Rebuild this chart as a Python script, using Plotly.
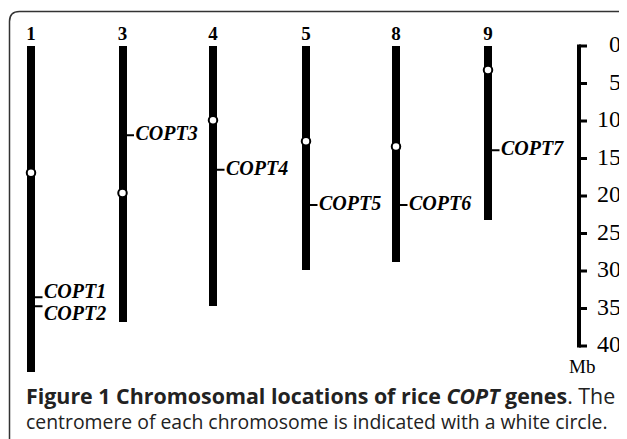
import plotly.graph_objects as go

W, H = 627, 439          # browser window
OFF = 8                  # default page margin around the plot div
FW, FH = W - OFF, H - OFF

# ---- data (Mb) ----
chrom_names = ["1", "3", "4", "5", "8", "9"]
chrom_lengths = [43.5, 36.8, 34.7, 29.9, 28.8, 23.2]
centromeres = [16.9, 19.6, 9.9, 12.7, 13.4, 3.2]
gene_names = ["COPT1", "COPT2", "COPT3", "COPT4", "COPT5", "COPT6", "COPT7"]
gene_chrom = ["1", "1", "3", "4", "5", "8", "9"]
gene_pos = [33.5, 34.7, 11.9, 16.5, 21.2, 21.2, 13.9]
gene_label_pos = [32.9, 35.9, 11.9, 16.5, 21.2, 21.2, 13.9]
scale_ticks = [0, 5, 10, 15, 20, 25, 30, 35, 40]

# ---- layout positions (window pixels across) ----
chrom_x = [31, 122.5, 213, 306, 396, 488]
bar_w = 8
scale_x = 579
px_top = 46.0      # window pixel row of 0 Mb
px_per_mb = 7.5

y_min = (OFF - px_top) / px_per_mb
y_max = (H - px_top) / px_per_mb

cx = dict(zip(chrom_names, chrom_x))
SERIF = "Liberation Serif"

fig = go.Figure()

# chromosomes
fig.add_trace(go.Bar(x=chrom_x, y=chrom_lengths, base=0, width=bar_w,
                     marker=dict(color="black", line=dict(width=0)),
                     hoverinfo="skip"))

# gene ticks
tx, ty = [], []
for c, p in zip(gene_chrom, gene_pos):
    x0 = cx[c] + bar_w / 2
    tx += [x0 - 0.5, x0 + 7.5, None]
    ty += [p, p, None]
fig.add_trace(go.Scatter(x=tx, y=ty, mode="lines",
                         line=dict(color="black", width=2), hoverinfo="skip"))

# gene labels
fig.add_trace(go.Scatter(x=[cx[c] + bar_w / 2 + 9 for c in gene_chrom],
                         y=gene_label_pos, mode="text",
                         text=[f"<b><i>{g}</i></b>" for g in gene_names],
                         textposition="middle right",
                         textfont=dict(family=SERIF, size=20, color="black"),
                         hoverinfo="skip"))

# centromeres
fig.add_trace(go.Scatter(x=chrom_x, y=centromeres, mode="markers",
                         marker=dict(symbol="circle", size=8.5, color="white",
                                     line=dict(color="black", width=2)),
                         hoverinfo="skip"))

# chromosome labels
fig.add_trace(go.Scatter(x=chrom_x, y=[-1.5] * len(chrom_x), mode="text",
                         text=[f"<b>{n}</b>" for n in chrom_names],
                         textposition="middle center",
                         textfont=dict(family=SERIF, size=19, color="black"),
                         hoverinfo="skip"))

# scale bar
fig.add_trace(go.Scatter(x=[scale_x, scale_x], y=[scale_ticks[0] - 0.2, scale_ticks[-1] + 0.2],
                         mode="lines", line=dict(color="black", width=4),
                         hoverinfo="skip"))
sx, sy = [], []
for t in scale_ticks:
    sx += [scale_x, scale_x + 8, None]
    sy += [t, t, None]
fig.add_trace(go.Scatter(x=sx, y=sy, mode="lines",
                         line=dict(color="black", width=3), hoverinfo="skip"))
fig.add_trace(go.Scatter(x=[621] * len(scale_ticks), y=scale_ticks, mode="text",
                         text=[str(t) for t in scale_ticks],
                         textposition="middle left",
                         textfont=dict(family=SERIF, size=24, color="black"),
                         hoverinfo="skip"))
fig.add_annotation(x=582, y=42.7, xref="x", yref="y", text="Mb", showarrow=False,
                   font=dict(family=SERIF, size=19, color="black"),
                   xanchor="center", yanchor="middle")


def px(x):
    return (x - OFF) / FW


def py(y):
    return 1 - (y - OFF) / FH


# frame with rounded top corners
L, T, R, B, r = 9.5, 11.5, 629, 470, 10
path = (f"M {px(L)},{py(B)} L {px(L)},{py(T + r)} "
        f"Q {px(L)},{py(T)} {px(L + r)},{py(T)} "
        f"L {px(R - r)},{py(T)} Q {px(R)},{py(T)} {px(R)},{py(T + r)} "
        f"L {px(R)},{py(B)}")
fig.add_shape(type="path", path=path, xref="paper", yref="paper",
              line=dict(color="#333333", width=1.5))

# caption (one block, two lines)
caption = ('<span style="font-size:21.4px"><b>Figure 1 Chromosomal locations of rice '
           '<i>COPT</i> genes</b>. The</span><br>'
           'centromere of each chromosome is indicated with a white circle.')
fig.add_annotation(x=px(24), y=py(407.5), xref="paper", yref="paper",
                   text=caption, align="left",
                   showarrow=False, xanchor="left", yanchor="middle",
                   font=dict(family="Open Sans", size=19.4, color="#222222"))

fig.update_layout(width=FW, height=FH, margin=dict(l=0, r=0, t=0, b=0),
                  paper_bgcolor="white", plot_bgcolor="white",
                  showlegend=False, bargap=0)
fig.update_xaxes(range=[OFF, W], visible=False, fixedrange=True)
fig.update_yaxes(range=[y_max, y_min], visible=False, fixedrange=True)

fig.write_html("out.html")
